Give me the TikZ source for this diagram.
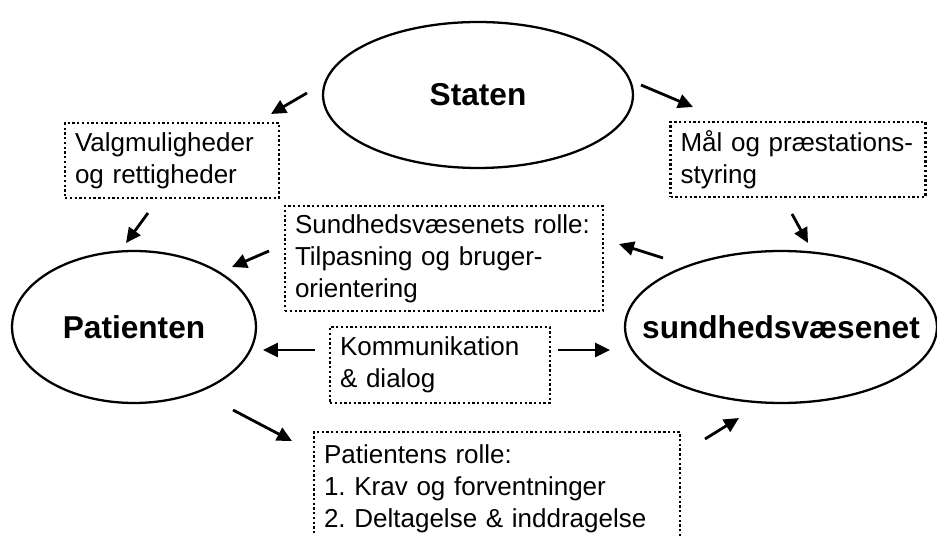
\documentclass[tikz,border=0pt]{standalone}
\usepackage{fontspec}
\setmainfont{Liberation Sans}
\usetikzlibrary{arrows.meta,shapes.geometric}
\frenchspacing

\tikzstyle{actor}     = [draw, ellipse, line width=1.3pt, inner sep=0pt]
\tikzstyle{actortext} = [font=\fontsize{18}{22}\selectfont\bfseries]
\tikzstyle{role}      = [draw, line width=1.3pt, dash pattern=on 1.3pt off 1.4pt, align=left,
                         inner xsep=0.2cm, inner ysep=0pt, font=\fontsize{14.8}{18.2}\selectfont]
\tikzstyle{flow}      = [-{Triangle[length=8.5pt,width=8pt]}, line width=1.6pt]
\def\flow#1#2#3{
  \coordinate (#1 from) at #2;
  \coordinate (#1 to) at #3;
  \draw[flow] (#1 from) -- (#1 to);
}

\begin{document}
\begin{tikzpicture}[x=0.02cm, y=-0.02cm]
    \useasboundingbox (0,0) rectangle (937,536);
    \clip (0,0) rectangle (937,536);
    % actors
    \node[actor, minimum width=6.2cm, minimum height=2.92cm, label={[actortext]center:Staten}] (staten) at (478,95) {};
    \node[actor, minimum width=4.88cm, minimum height=3.04cm, label={[actortext]center:Patienten}] (patienten) at (134,327) {};
    \node[actor, minimum width=6.24cm, minimum height=3.04cm, label={[actortext]center:sundhedsvæsenet}] (sundhed) at (781,327) {};
    % roles
    \node[role, text width=3.88cm, minimum height=1.5cm] (valg) at (172,160.5) {Valgmuligheder\\og rettigheder};
    \node[role, text width=4.7cm, minimum height=1.5cm] (maal) at (798,159.5) {Mål og præstations-\\styring};
    \node[role, text width=5.96cm, minimum height=2.1cm] (sundrolle) at (444,258.5) {Sundhedsvæsenets rolle:\\Tilpasning og bruger-\\orientering};
    \node[role, text width=4.0cm, minimum height=1.52cm] (komm) at (440,365) {Kommunikation\\\& dialog};
    \node[role, text width=6.92cm, minimum height=2.26cm] (patrolle) at (497,488.5) {Patientens rolle:\\1. Krav og forventninger\\2. Deltagelse \& inddragelse};
    % arrows
    \flow{staten-valg}{(307,93)}{(271,114)}
    \flow{valg-patienten}{(148,213)}{(126,243)}
    \flow{sundrolle-patienten}{(269,251)}{(232,267)}
    \flow{komm-patienten}{(315,350)}{(263,350)}
    \flow{komm-sundhed}{(558,350)}{(610,350)}
    \flow{sundhed-sundrolle}{(663,258)}{(619,244)}
    \flow{staten-maal}{(641,85)}{(693,107)}
    \flow{maal-sundhed}{(792,214)}{(808,243)}
    \flow{patienten-patrolle}{(233,410)}{(292,441)}
    \flow{patrolle-sundhed}{(705,439)}{(739,418)}
\end{tikzpicture}
\end{document}
